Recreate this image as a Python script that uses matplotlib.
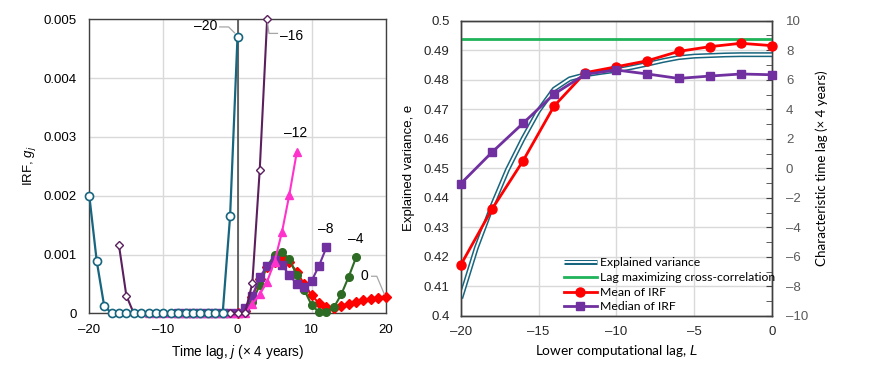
import matplotlib
matplotlib.use("Agg")
import matplotlib.pyplot as plt
import numpy as np
from matplotlib.legend_handler import HandlerBase
from matplotlib.lines import Line2D

# ---------------- data: left panel (IRF for several lower lags L) ----------------
j_m20 = list(range(-20, 1))
g_m20 = [0.0020, 0.00089, 0.00013] + [0.0] * 16 + [0.00165, 0.00470]
j_m16 = list(range(-16, 5))
g_m16 = [0.00116, 0.00030] + [0.0] * 16 + [0.00051, 0.00244, 0.00500]
j_m12 = list(range(-12, 9))
g_m12 = [0.0] * 14 + [0.00016, 0.00032, 0.00054, 0.00088, 0.00138, 0.00202, 0.00274]
j_m8 = list(range(-8, 13))
g_m8 = [0.0] * 9 + [0.00009, 0.00030, 0.00061, 0.00081, 0.00090, 0.00082, 0.00065,
                    0.00050, 0.00044, 0.00055, 0.00081, 0.00112]
j_m4 = list(range(-4, 17))
g_m4 = [0.0] * 5 + [0.00004, 0.00020, 0.00048, 0.00080, 0.00099, 0.00105, 0.00092,
                    0.00065, 0.00040, 0.00014, 0.00002, 0.00002, 0.00010, 0.00032,
                    0.00062, 0.00095]
j_0 = list(range(0, 21))
g_0 = [0.0, 0.00004, 0.00028, 0.00058, 0.00078, 0.00088, 0.00094, 0.00088, 0.00070,
       0.00050, 0.00031, 0.00017, 0.00011, 0.00009, 0.00013, 0.00016, 0.00019,
       0.00022, 0.00024, 0.00026, 0.00027]

# ---------------- data: right panel ----------------
L_ev = list(range(-20, 1))
explained_variance = [0.4060, 0.4230, 0.4370, 0.4495, 0.4600, 0.4695, 0.4768, 0.4803,
                      0.4817, 0.4825, 0.4832, 0.4842, 0.4853, 0.4865, 0.4875, 0.4880,
                      0.4882, 0.4884, 0.4885, 0.4885, 0.4885]
L_even = list(range(-20, 1, 2))
mean_irf = [-6.55, -2.78, 0.50, 4.22, 6.48, 6.88, 7.29, 7.92, 8.24, 8.47, 8.31]
median_irf = [-1.04, 1.08, 3.05, 5.03, 6.37, 6.66, 6.39, 6.09, 6.25, 6.39, 6.34]
lag_max_xcorr = 8.74

TEAL = "#17657e"
DPURPLE = "#5b1f5e"
MAGENTA = "#ff33cc"
PURPLE = "#7030a0"
DGREEN = "#2e6b24"
RED = "#ff0000"
GREEN = "#1fb35a"
GRID = "#d9d9d9"
SPINE = "#404040"
LEADER = "#a6a6a6"

plt.rcParams["font.family"] = ["Liberation Sans", "DejaVu Sans"]
plt.rcParams["mathtext.fontset"] = "custom"
plt.rcParams["mathtext.rm"] = "Liberation Sans"
plt.rcParams["mathtext.it"] = "Liberation Sans:italic"

FS = 9.5

fig = plt.figure(figsize=(8.7, 3.67), dpi=100)

# ================= left panel =================
ax1 = fig.add_axes([89.3 / 870, 1 - 313.3 / 367, (385.7 - 89.3) / 870, (313.3 - 19.3) / 367])
ax1.set_xlim(-20, 20)
ax1.set_ylim(0, 0.005)
ax1.set_xticks([-20, -10, 0, 10, 20])
ax1.set_yticks([0, 0.001, 0.002, 0.003, 0.004, 0.005])
ax1.set_yticklabels(["0", "0.001", "0.002", "0.003", "0.004", "0.005"])
ax1.set_xticklabels(["\u201320", "\u201310", "0", "10", "20"])
ax1.tick_params(length=0, labelsize=FS, colors="#000000", pad=9)
ax1.tick_params(axis="x", pad=8)
ax1.grid(True, color=GRID, lw=1.0, zorder=0)
ax1.axvline(0, color=SPINE, lw=1.1, zorder=2)
for s in ax1.spines.values():
    s.set_color(SPINE)
    s.set_linewidth(1.0)

ax1.plot(j_0, g_0, color=RED, lw=1.5, marker="D", ms=5, mfc=RED, mec=RED, zorder=3, clip_on=False)
ax1.plot(j_m4, g_m4, color=DGREEN, lw=1.5, marker="o", ms=5.5, mfc=DGREEN, mec=DGREEN, zorder=4, clip_on=False)
ax1.plot(j_m8, g_m8, color=PURPLE, lw=1.5, marker="s", ms=5.3, mfc=PURPLE, mec=PURPLE, zorder=5, clip_on=False)
ax1.plot(j_m12, g_m12, color=MAGENTA, lw=1.5, marker="^", ms=6, mfc=MAGENTA, mec=MAGENTA, zorder=6, clip_on=False)
ax1.plot(j_m16, g_m16, color=DPURPLE, lw=1.5, marker="D", ms=4.3, mfc="white", mec=DPURPLE, mew=1.0, zorder=7, clip_on=False)
ax1.plot(j_m20, g_m20, color=TEAL, lw=1.6, marker="o", ms=5.8, mfc="white", mec=TEAL, mew=1.2, zorder=8, clip_on=False)

ax1.set_ylabel("IRF, $g_j$", fontsize=FS, labelpad=4)
ax1.set_xlabel("Time lag, $j$ (\u00d7 4 years)", fontsize=9.8, labelpad=5)

# data labels with leader lines
ax1.plot([-2.4, -1.2, -0.4], [0.00487, 0.00487, 0.00477], color=LEADER, lw=0.9, zorder=9, clip_on=False)
ax1.text(-2.7, 0.00488, "\u201320", fontsize=10, ha="right", va="center")
ax1.plot([4.08, 4.25, 5.4], [0.00492, 0.00476, 0.00476], color=LEADER, lw=0.9, zorder=9, clip_on=False)
ax1.text(5.7, 0.00472, "\u201316", fontsize=10, ha="left", va="center")
ax1.text(7.9, 0.00306, "\u201312", fontsize=10, ha="center", va="center")
ax1.text(11.95, 0.00143, "\u20138", fontsize=10, ha="center", va="center")
ax1.text(16.0, 0.00126, "\u20134", fontsize=10, ha="center", va="center")
ax1.plot([18.1, 18.8, 19.8], [0.00063, 0.00063, 0.00033], color=LEADER, lw=0.9, zorder=9, clip_on=False)
ax1.text(17.1, 0.00063, "0", fontsize=10, ha="center", va="center")

# ================= right panel =================
ax2 = fig.add_axes([460.7 / 870, 1 - 316 / 367, (772 - 460.7) / 870, (316 - 20.7) / 367])
ax3 = ax2.twinx()
ax2.set_xlim(-20, 0)
ax2.set_ylim(0.4, 0.5)
ax3.set_ylim(-10, 10)
ax2.set_xticks([-20, -15, -10, -5, 0])
ax2.set_xticklabels(["\u201320", "\u201315", "\u201310", "\u20135", "0"])
ax2.set_yticks(np.round(np.arange(0.4, 0.5001, 0.01), 2))
ax2.set_yticklabels(["0.4", "0.41", "0.42", "0.43", "0.44", "0.45", "0.46", "0.47",
                     "0.48", "0.49", "0.5"])
ax3.set_yticks(list(range(-10, 11, 2)))
ax3.set_yticklabels([("\u2013" + str(-v)) if v < 0 else str(v) for v in range(-10, 11, 2)])
ax3.set_yticks(list(range(-9, 10, 2)), minor=True)
ax2.tick_params(length=0, labelsize=FS, colors="#262626", pad=8)
ax2.tick_params(axis="x", pad=7)
ax3.tick_params(axis="y", which="major", direction="in", length=4, color=SPINE,
                labelsize=FS, labelcolor="#595959", pad=10)
ax3.tick_params(axis="y", which="minor", direction="in", length=4, color=SPINE)
ax2.grid(True, color=GRID, lw=1.0, zorder=0)
for a in (ax2, ax3):
    for s in a.spines.values():
        s.set_color(SPINE)
        s.set_linewidth(1.0)
ax2.set_zorder(1)
ax3.set_zorder(2)
ax3.patch.set_visible(False)

ax3.plot([-20, 0], [lag_max_xcorr, lag_max_xcorr], color=GREEN, lw=2.0, zorder=2)
ax2.plot(L_ev, explained_variance, color=TEAL, lw=3.6, zorder=3, solid_capstyle="butt")
ax2.plot(L_ev, explained_variance, color="white", lw=1.4, zorder=4, solid_capstyle="butt")
l_mean, = ax3.plot(L_even, mean_irf, color=RED, lw=2.0, marker="o", ms=6.5, zorder=5, clip_on=False)
l_med, = ax3.plot(L_even, median_irf, color=PURPLE, lw=2.0, marker="s", ms=6.3, zorder=6, clip_on=False)


class DoubleLine(HandlerBase):
    def create_artists(self, legend, orig, xd, yd, w, h, fs, trans):
        y = h / 2 - yd
        a = Line2D([-xd, -xd + w], [y, y], color=TEAL, lw=3.6, transform=trans, solid_capstyle="butt")
        b = Line2D([-xd, -xd + w], [y, y], color="white", lw=1.4, transform=trans, solid_capstyle="butt")
        return [a, b]


green_h = Line2D([], [], color=GREEN, lw=2.0)
ev_h = Line2D([], [], color=TEAL)
leg = ax3.legend([ev_h, green_h, l_mean, l_med],
                 ["Explained variance", "Lag maximizing cross-correlation", "Mean of IRF", "Median of IRF"],
                 handler_map={ev_h: DoubleLine()},
                 loc="lower left", bbox_to_anchor=((564 - 460.7) / 311.3, 0.012), frameon=False,
                 prop={"family": "Lato", "size": 8.8}, handlelength=2.7, handletextpad=0.25,
                 labelspacing=0.3, borderaxespad=0.0, borderpad=0.0)

ax2.set_xlabel("Lower computational lag, $L$", fontsize=9.8, family="Lato", labelpad=4)
ax2.set_ylabel("Explained variance, e", fontsize=FS, labelpad=6)
ax3.set_ylabel("Characteristic time lag (\u00d7 4 years)", fontsize=9.6, family="Lato", labelpad=5)

fig.savefig("out.png", dpi=100)
